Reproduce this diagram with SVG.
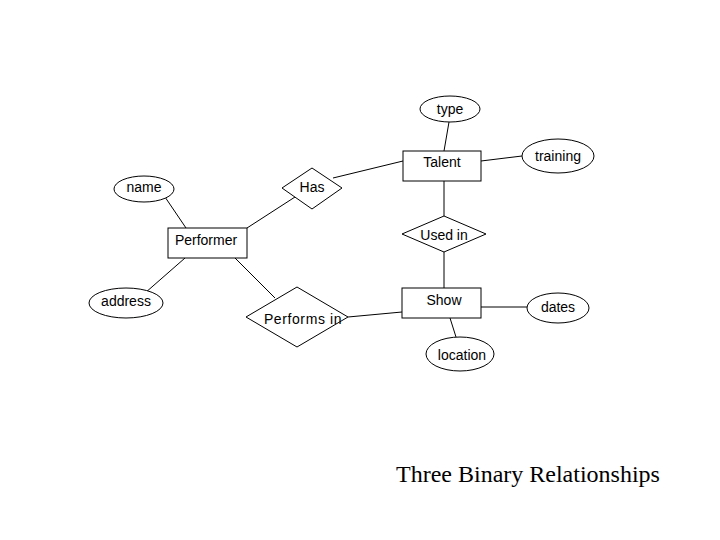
<svg xmlns="http://www.w3.org/2000/svg" width="720" height="540" viewBox="0 0 720 540">
<style>
.s{fill:#fff;stroke:#000;stroke-width:1}
.t{font-family:"Liberation Sans",Arial,sans-serif;font-size:14px;fill:#000;text-anchor:middle}
.c line{stroke:#000;stroke-width:1}
</style>
<rect width="720" height="540" fill="#fff"/>
<g class="c" id="connectors">
<line x1="449" y1="122" x2="444" y2="151"/>
<line x1="481" y1="161" x2="522" y2="156"/>
<line x1="333" y1="178" x2="403" y2="161"/>
<line x1="295" y1="197" x2="247" y2="228"/>
<line x1="165" y1="197" x2="186" y2="228"/>
<line x1="185" y1="258" x2="145" y2="293"/>
<line x1="235" y1="258" x2="275" y2="298"/>
<line x1="348" y1="317" x2="402" y2="312"/>
<line x1="444" y1="181" x2="444" y2="216"/>
<line x1="444" y1="252" x2="444" y2="288"/>
<line x1="481" y1="307" x2="527" y2="307"/>
<line x1="450" y1="318" x2="456" y2="337"/>
</g>
<g id="type"><ellipse class="s" cx="450" cy="109" rx="30" ry="13"/><text class="t" x="450" y="114">type</text></g>
<g id="talent"><rect class="s" x="403" y="151" width="78" height="30"/><text class="t" x="442" y="167">Talent</text></g>
<g id="training"><ellipse class="s" cx="558" cy="156" rx="36" ry="17"/><text class="t" x="558" y="161">training</text></g>
<g id="name"><ellipse class="s" cx="144" cy="189" rx="30" ry="13"/><text class="t" x="144" y="192">name</text></g>
<g id="has"><polygon class="s" points="282,188 312,168 342,188 312,209"/><text class="t" x="312" y="192">Has</text></g>
<g id="performer"><rect class="s" x="168" y="228" width="79" height="30"/><text class="t" x="206" y="245">Performer</text></g>
<g id="address"><ellipse class="s" cx="126" cy="303" rx="37" ry="15"/><text class="t" x="126" y="306">address</text></g>
<g id="performs-in"><polygon class="s" points="246,317 297,287 348,317 297,347"/><text class="t" x="303" y="324" letter-spacing="0.6">Performs in</text></g>
<g id="used-in"><polygon class="s" points="402,234 444,216 486,234 444,252"/><text class="t" x="444" y="240">Used in</text></g>
<g id="show"><rect class="s" x="402" y="288" width="79" height="30"/><text class="t" x="444" y="305">Show</text></g>
<g id="dates"><ellipse class="s" cx="558" cy="308" rx="31" ry="15"/><text class="t" x="558" y="312">dates</text></g>
<g id="location"><ellipse class="s" cx="460" cy="354" rx="34" ry="17"/><text class="t" x="462" y="360">location</text></g>
<text x="528" y="482" font-family="'Liberation Serif','Times New Roman',serif" font-size="24" text-anchor="middle" fill="#000">Three Binary Relationships</text>
</svg>
